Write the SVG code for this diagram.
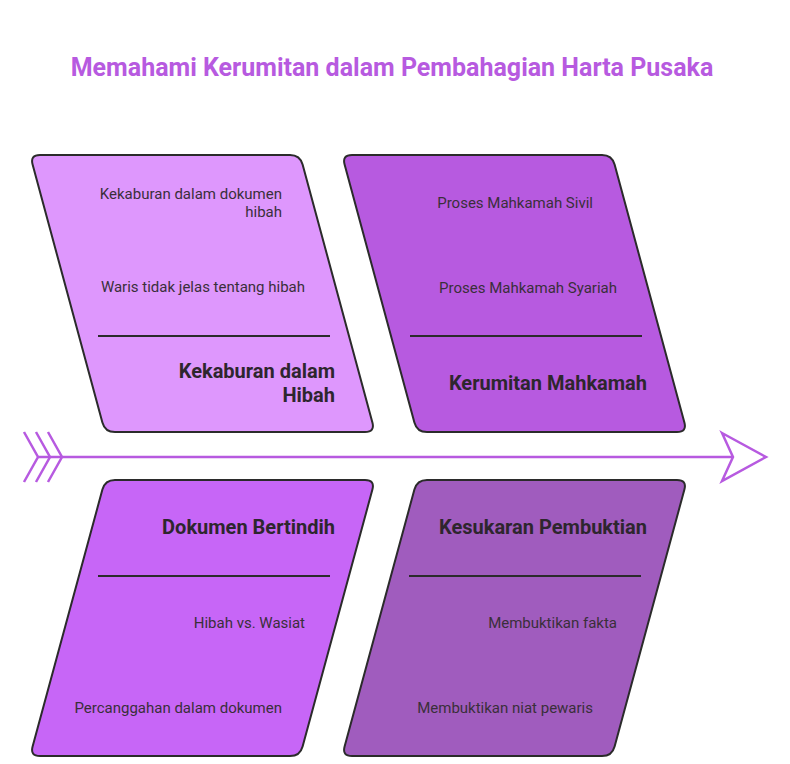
<svg xmlns="http://www.w3.org/2000/svg" width="790" height="764" viewBox="0 0 790 764">
<style>
.shape{stroke:#2b2b2b;stroke-width:2;}
.item{font-family:Roboto,"Liberation Sans",sans-serif;font-size:15px;fill:#3a2f3a;text-anchor:end;}
.head{font-family:Roboto,"Liberation Sans",sans-serif;font-size:20px;font-weight:700;fill:#2e262e;text-anchor:end;}
.div{stroke:#2b2b2b;stroke-width:2;}
.spine{stroke:#b75ae0;stroke-width:2.5;fill:none;}
</style>
<rect width="790" height="764" fill="#ffffff"/>
<text x="392" y="76" text-anchor="middle" font-family="Roboto,'Liberation Sans',sans-serif" font-size="25" font-weight="700" fill="#b75ae0">Memahami Kerumitan dalam Pembahagian Harta Pusaka</text>

<g id="connectors">
<line class="spine" x1="38" y1="457" x2="733" y2="457"/>
<path class="spine" d="M24,432 L38,457 L24,482 M36,432 L50,457 L36,482 M48,432 L62,457 L48,482"/>
<path class="spine" fill="#ffffff" stroke-linejoin="miter" d="M722,433 L766,457 L722,481 L733,457 Z"/>
</g>

<g id="node-kekaburan">
<path class="shape" fill="#de97fd" d="M40,155 L290,155 Q300,155 302.6,164.6 L372.4,422.4 Q375,432 365,432 L115,432 Q105,432 102.4,422.4 L32.6,164.6 Q30,155 40,155 Z"/>
<line class="div" x1="98" y1="336" x2="330" y2="336"/>
<text class="item" x="282" y="199">Kekaburan dalam dokumen</text>
<text class="item" x="282" y="217">hibah</text>
<text class="item" x="305" y="292">Waris tidak jelas tentang hibah</text>
<text class="head" x="335" y="378">Kekaburan dalam</text>
<text class="head" x="335" y="402">Hibah</text>
</g>

<g id="node-mahkamah">
<path class="shape" fill="#b75ae0" d="M352,155 L602,155 Q612,155 614.6,164.6 L684.4,422.4 Q687,432 677,432 L427,432 Q417,432 414.4,422.4 L344.6,164.6 Q342,155 352,155 Z"/>
<line class="div" x1="410" y1="336" x2="642" y2="336"/>
<text class="item" x="593" y="208">Proses Mahkamah Sivil</text>
<text class="item" x="617" y="293">Proses Mahkamah Syariah</text>
<text class="head" x="647" y="390">Kerumitan Mahkamah</text>
</g>

<g id="node-dokumen">
<path class="shape" fill="#c766f7" d="M115,480 L365,480 Q375,480 372.4,489.6 L302.6,746.4 Q300,756 290,756 L40,756 Q30,756 32.6,746.4 L102.4,489.6 Q105,480 115,480 Z"/>
<line class="div" x1="98" y1="576" x2="330" y2="576"/>
<text class="head" x="335" y="534">Dokumen Bertindih</text>
<text class="item" x="305" y="628">Hibah vs. Wasiat</text>
<text class="item" x="282" y="713">Percanggahan dalam dokumen</text>
</g>

<g id="node-pembuktian">
<path class="shape" fill="#a05cbe" d="M427,480 L677,480 Q687,480 684.4,489.6 L614.6,746.4 Q612,756 602,756 L352,756 Q342,756 344.6,746.4 L414.4,489.6 Q417,480 427,480 Z"/>
<line class="div" x1="409" y1="576" x2="641" y2="576"/>
<text class="head" x="647" y="534">Kesukaran Pembuktian</text>
<text class="item" x="617" y="628">Membuktikan fakta</text>
<text class="item" x="593" y="713">Membuktikan niat pewaris</text>
</g>
</svg>
